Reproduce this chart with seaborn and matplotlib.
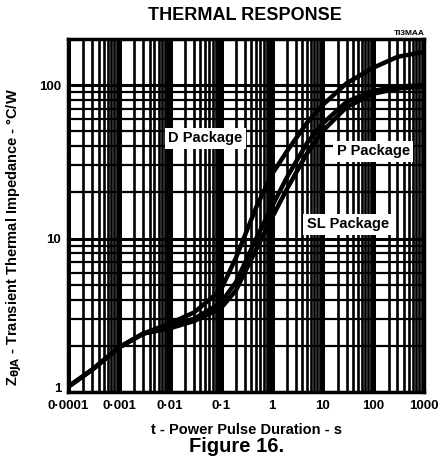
import matplotlib
matplotlib.use("Agg")
import matplotlib.pyplot as plt
import numpy as np
import pandas as pd
import seaborn as sns
from matplotlib.ticker import FixedLocator, LogLocator, NullFormatter

# pulse duration (s) and transient thermal impedance (degC/W)
pulse_time = [1e-4, 3e-4, 1e-3, 3e-3, 1e-2, 3e-2, 0.1, 0.2, 0.5, 1, 2, 5, 10, 30, 100, 300, 1000]
z_d_package = [1.08, 1.4, 1.95, 2.4, 2.8, 3.3, 4.6, 7.5, 16, 26, 37, 57, 74, 103, 130, 153, 165]
z_p_package = [1.08, 1.4, 1.95, 2.4, 2.7, 3.0, 3.8, 5.2, 10, 16, 25, 42, 56, 78, 92, 98, 100]
z_sl_package = [1.08, 1.4, 1.95, 2.4, 2.6, 2.9, 3.5, 4.6, 8.5, 13.5, 21, 36, 50, 72, 88, 95, 98]

x_ticks = [1e-4, 1e-3, 1e-2, 1e-1, 1, 10, 100, 1000]
x_tick_labels = ["0·0001", "0·001", "0·01", "0·1", "1", "10", "100", "1000"]
y_ticks = [1, 10, 100]
y_tick_labels = ["1", "10", "100"]

curves = pd.DataFrame(
    {
        "t": pulse_time * 3,
        "z": z_d_package + z_p_package + z_sl_package,
        "package": ["D"] * len(pulse_time) + ["P"] * len(pulse_time) + ["SL"] * len(pulse_time),
    }
)

sns.set_theme(style="white")
plt.rcParams["font.family"] = ["Liberation Sans", "DejaVu Sans"]
plt.rcParams["font.weight"] = "bold"
for key in ["text.color", "axes.labelcolor", "xtick.color", "ytick.color"]:
    plt.rcParams[key] = "black"

fig = plt.figure(figsize=(4.45, 4.7), dpi=100)
ax = fig.add_axes([0.153, 0.166, 0.800, 0.751])
ax.set_xscale("log")
ax.set_yscale("log")
ax.set_xlim(1e-4, 1000)
ax.set_ylim(1, 200)

# heavy printed grid
ax.xaxis.set_minor_locator(LogLocator(base=10, subs=np.arange(2, 10)))
ax.yaxis.set_minor_locator(LogLocator(base=10, subs=np.arange(2, 10)))
ax.yaxis.set_minor_formatter(NullFormatter())
ax.xaxis.set_minor_formatter(NullFormatter())
ax.grid(True, axis="x", which="major", color="black", lw=3.6)
ax.grid(True, axis="x", which="minor", color="black", lw=1.9)
ax.grid(True, axis="y", which="major", color="black", lw=2.2)
ax.grid(True, axis="y", which="minor", color="black", lw=1.6)
ax.set_axisbelow(True)

sns.lineplot(
    data=curves, x="t", y="z", units="package", estimator=None,
    color="black", lw=3.2, legend=False, ax=ax,
)

ax.xaxis.set_major_locator(FixedLocator(x_ticks))
ax.set_xticklabels(x_tick_labels, fontsize=9.5, fontweight="bold")
ax.yaxis.set_major_locator(FixedLocator(y_ticks))
ax.set_yticklabels(y_tick_labels, fontsize=9.5, fontweight="bold")
ax.tick_params(axis="x", length=0, pad=6)
ax.tick_params(axis="y", length=0, pad=5)
ax.get_yticklabels()[0].set_va("baseline")
for s in ax.spines.values():
    s.set_visible(True)
    s.set_color("black")
    s.set_linewidth(2.5)

ax.set_xlabel("t - Power Pulse Duration - s", fontsize=10.5, fontweight="bold", labelpad=8)
ax.set_ylabel(r"Z$_{\mathbf{\theta JA}}$ - Transient Thermal Impedance - °C/W",
              fontsize=10.5, fontweight="bold")
ax.yaxis.set_label_coords(-0.125, 0.44)

box = dict(boxstyle="square,pad=0.25", fc="white", ec="none")
ax.text(0.05, 45, "D Package", fontsize=10.5, fontweight="bold", ha="center", va="center", bbox=box)
ax.text(100, 37, "P Package", fontsize=10.5, fontweight="bold", ha="center", va="center", bbox=box)
ax.text(32, 12.4, "SL Package", fontsize=10.5, fontweight="bold", ha="center", va="center", bbox=box)

fig.text(0.551, 0.966, "THERMAL RESPONSE", fontsize=13, fontweight="bold", ha="center", va="center")
fig.text(0.955, 0.929, "TI3MAA", fontsize=6, fontweight="bold", ha="right", va="center")
fig.text(0.531, 0.049, "Figure 16.", fontsize=14.5, fontweight="bold", ha="center", va="center")

fig.savefig("out.png", dpi=100)
